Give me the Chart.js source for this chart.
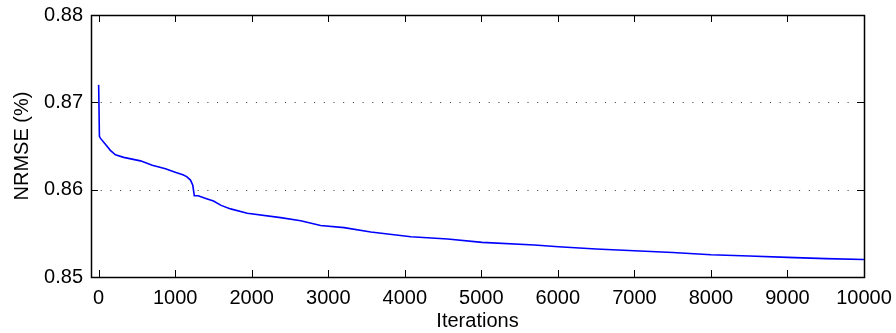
<!DOCTYPE html>
<html>
<head>
<meta charset="utf-8">
<script src="https://cdn.jsdelivr.net/npm/chart.js@4"></script>
<style>
  html, body { margin: 0; padding: 0; background: #fff; }
  #wrap { width: 896px; height: 333px; }
</style>
</head>
<body>
<div id="wrap"><canvas id="nrmseChart"></canvas></div>
<script>
// values
const iterations = [0, 10, 22, 88, 153, 219, 327, 546, 700, 873, 1000, 1100, 1150, 1200, 1230, 1250,
  1300, 1400, 1500, 1600, 1724, 1942, 2378, 2640, 2900, 3207, 3556, 4080, 4560, 5010, 5694, 6008,
  6500, 7000, 7500, 8000, 8500, 9000, 9500, 10000];
const nrmse = [0.8720, 0.8661, 0.8659, 0.8652, 0.8645, 0.8640, 0.8637, 0.8633, 0.8628, 0.8624, 0.8620, 0.8617, 0.8615, 0.8611, 0.8605, 0.8593,
  0.8593, 0.8590, 0.8587, 0.8582, 0.8578, 0.8573, 0.8568, 0.85645, 0.8559, 0.85565, 0.85515, 0.8546, 0.85435, 0.85396, 0.85366, 0.85347,
  0.8532, 0.8530, 0.8528, 0.85255, 0.8524, 0.85225, 0.8521, 0.8520];
const xTicks = [0, 1000, 2000, 3000, 4000, 5000, 6000, 7000, 8000, 9000, 10000];
const yTicks = [0.85, 0.86, 0.87, 0.88];
const yGrid = [0.86, 0.87];

const FONT = "'Liberation Sans', Arial, Helvetica, sans-serif";

// matlab style box: dotted grid, inward ticks on all four sides
const boxPlugin = {
  id: "box",
  beforeDatasetsDraw(chart) {
    const { ctx, chartArea: a, scales } = chart;
    ctx.save();
    ctx.strokeStyle = "#333";
    ctx.lineWidth = 1;
    ctx.setLineDash([1, 8.7]);
    yGrid.forEach(v => {
      const y = Math.round(scales.y.getPixelForValue(v)) + 0.5;
      ctx.beginPath();
      ctx.moveTo(a.left, y);
      ctx.lineTo(a.right, y);
      ctx.stroke();
    });
    ctx.restore();
  },
  afterDatasetsDraw(chart) {
    const { ctx, chartArea: a, scales } = chart;
    const len = 7;
    ctx.save();
    ctx.strokeStyle = "#000";
    ctx.lineWidth = 1;
    ctx.beginPath();
    xTicks.forEach(v => {
      const x = Math.round(scales.x.getPixelForValue(v)) + 0.5;
      ctx.moveTo(x, a.bottom);
      ctx.lineTo(x, a.bottom - len);
      ctx.moveTo(x, a.top);
      ctx.lineTo(x, a.top + len);
    });
    yTicks.forEach(v => {
      const y = Math.round(scales.y.getPixelForValue(v)) + 0.5;
      ctx.moveTo(a.left, y);
      ctx.lineTo(a.left + len, y);
      ctx.moveTo(a.right, y);
      ctx.lineTo(a.right - len, y);
    });
    ctx.stroke();
    ctx.lineWidth = 1.5;
    ctx.strokeRect(Math.round(a.left) + 0.5, Math.round(a.top) + 0.5,
      Math.round(a.right - a.left), Math.round(a.bottom - a.top));
    ctx.restore();
  }
};

new Chart(document.getElementById("nrmseChart"), {
  type: "line",
  data: {
    datasets: [{
      data: iterations.map((it, i) => ({ x: it, y: nrmse[i] })),
      borderColor: "#0000ff",
      borderWidth: 1.6,
      pointRadius: 0,
      tension: 0,
      fill: false
    }]
  },
  options: {
    responsive: true,
    maintainAspectRatio: false,
    animation: false,
    layout: { padding: { top: 15, right: 32, left: 0, bottom: 0 } },
    plugins: { legend: { display: false }, tooltip: { enabled: false } },
    scales: {
      x: {
        type: "linear",
        min: -100,
        max: 10000,
        afterBuildTicks: s => { s.ticks = xTicks.map(v => ({ value: v })); },
        afterFit: s => { s.height = 56; s.paddingLeft = 0; s.paddingRight = 0; },
        grid: { display: false, drawTicks: false },
        border: { display: false },
        ticks: { color: "#000", padding: 9, maxRotation: 0, font: { family: FONT, size: 20 },
          callback: v => String(v) },
        title: { display: true, text: "Iterations", color: "#000", padding: { top: 0, bottom: 0 },
          font: { family: FONT, size: 20 } }
      },
      y: {
        min: 0.85,
        max: 0.88,
        afterBuildTicks: s => { s.ticks = yTicks.map(v => ({ value: v })); },
        afterFit: s => { s.width = 91; s.paddingTop = 0; s.paddingBottom = 0; },
        grid: { display: false, drawTicks: false },
        border: { display: false },
        ticks: { color: "#000", padding: 8, font: { family: FONT, size: 20 },
          callback: v => v.toFixed(2) },
        title: { display: true, text: "NRMSE (%)", color: "#000", padding: { top: 10, bottom: 0 },
          font: { family: FONT, size: 20 } }
      }
    }
  },
  plugins: [boxPlugin]
});
</script>
</body>
</html>
